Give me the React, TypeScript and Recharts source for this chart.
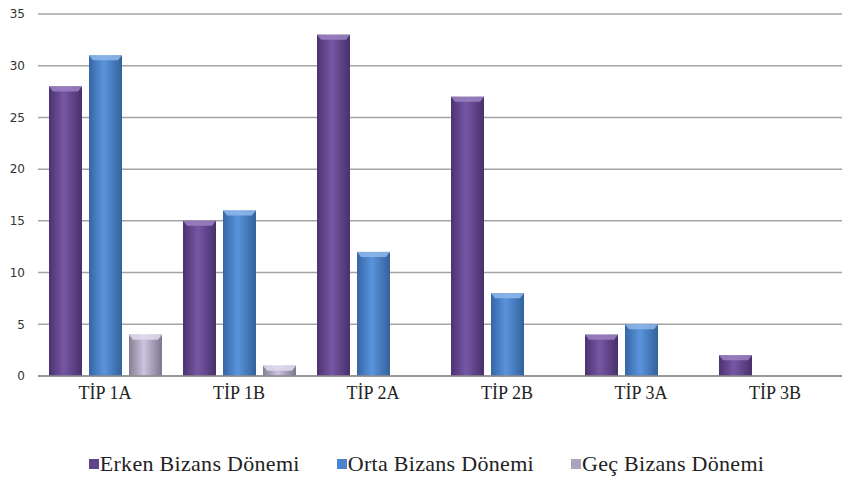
import { BarChart, Bar, XAxis, YAxis, CartesianGrid, Legend } from "recharts";

// kategori dan nilai tiap periode
const categories = ["TİP 1A", "TİP 1B", "TİP 2A", "TİP 2B", "TİP 3A", "TİP 3B"];
const erken = [28, 15, 33, 27, 4, 2];
const orta = [31, 16, 12, 8, 5, 0];
const gec = [4, 1, 0, 0, 0, 0];
const yTicks = [0, 5, 10, 15, 20, 25, 30, 35];

const serif = "Liberation Serif, Times New Roman, serif";

const series = [
  { key: "erken", name: "Erken Bizans Dönemi", grad: "gErken", top: "#9b82c2", icon: "#5e4489" },
  { key: "orta", name: "Orta Bizans Dönemi", grad: "gOrta", top: "#8fb8ec", icon: "#4a84cc" },
  { key: "gec", name: "Geç Bizans Dönemi", grad: "gGec", top: "#e2dcef", icon: "#aaa3bd" },
];

const data = categories.map((c, i) => ({
  name: c,
  erken: erken[i],
  orta: orta[i],
  gec: gec[i],
}));

const makeShape = (grad: string, top: string) => (props: any) => {
  const { x, y, width, height } = props;
  if (!height || height <= 0) return null;
  const b = Math.min(5, height / 2);
  return (
    <g>
      <rect x={x} y={y} width={width} height={height} fill={`url(#${grad})`} />
      <polygon
        points={`${x},${y} ${x + width},${y} ${x + width - 4},${y + b} ${x + 4},${y + b}`}
        fill={top}
        opacity={0.85}
      />
    </g>
  );
};

const LegendContent = () => (
  <div
    style={{
      display: "flex",
      justifyContent: "center",
      alignItems: "center",
      gap: 37,
      fontFamily: serif,
      fontSize: 22,
      letterSpacing: 0.3,
      color: "#222",
      paddingTop: 9,
      paddingLeft: 11,
    }}
  >
    {series.map((s) => (
      <div key={s.key} style={{ display: "flex", alignItems: "center" }}>
        <span
          style={{
            width: 10,
            height: 10,
            marginRight: 1,
            background: s.icon,
            display: "inline-block",
          }}
        />
        <span>{s.name}</span>
      </div>
    ))}
  </div>
);

export default function App() {
  return (
    <div style={{ position: "absolute", left: 0, top: 0, background: "#fff" }}>
      <BarChart
        width={842}
        height={482}
        data={data}
        margin={{ top: 14, right: 0, bottom: 0, left: 0 }}
        barSize={33}
        barGap={7}
      >
        <defs>
          <linearGradient id="gErken" x1="0" y1="0" x2="1" y2="0">
            <stop offset="0%" stopColor="#4b3270" />
            <stop offset="45%" stopColor="#7757a5" />
            <stop offset="100%" stopColor="#47306b" />
          </linearGradient>
          <linearGradient id="gOrta" x1="0" y1="0" x2="1" y2="0">
            <stop offset="0%" stopColor="#3566a6" />
            <stop offset="45%" stopColor="#5a94dc" />
            <stop offset="100%" stopColor="#33619c" />
          </linearGradient>
          <linearGradient id="gGec" x1="0" y1="0" x2="1" y2="0">
            <stop offset="0%" stopColor="#857f95" />
            <stop offset="45%" stopColor="#cbc3df" />
            <stop offset="100%" stopColor="#7c778c" />
          </linearGradient>
        </defs>
        <CartesianGrid vertical={false} stroke="#a3a3a3" strokeWidth={1.5} />
        <XAxis
          dataKey="name"
          axisLine={{ stroke: "#8c8c8c", strokeWidth: 1.5 }}
          tickLine={false}
          tickSize={0}
          tickMargin={10}
          height={66}
          interval={0}
          tick={{ fill: "#222", fontSize: 18, fontFamily: serif }}
        />
        <YAxis
          domain={[0, 35]}
          ticks={yTicks}
          width={38}
          axisLine={false}
          tickLine={false}
          tickSize={0}
          tickMargin={13}
          tick={{ fill: "#333", fontSize: 12, fontFamily: "DejaVu Sans, sans-serif" }}
        />
        <Legend verticalAlign="bottom" height={40} content={<LegendContent />} />
        {series.map((s) => (
          <Bar
            key={s.key}
            dataKey={s.key}
            name={s.name}
            fill={s.icon}
            shape={makeShape(s.grad, s.top)}
            isAnimationActive={false}
          />
        ))}
      </BarChart>
    </div>
  );
}
